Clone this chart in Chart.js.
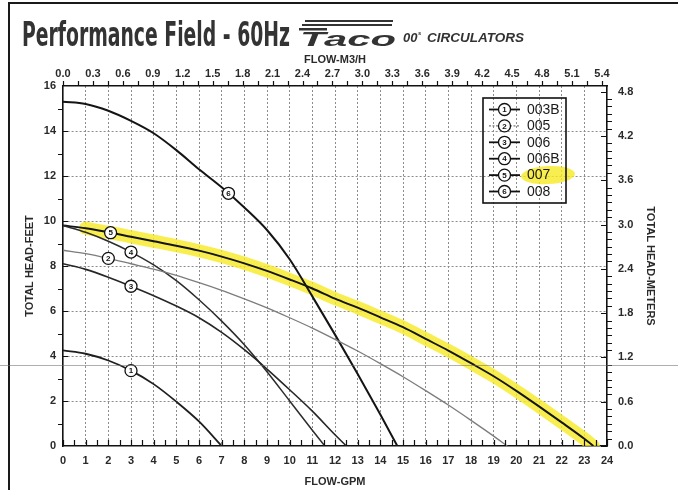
<!DOCTYPE html>
<html>
<head>
<meta charset="utf-8">
<title>Performance Field - 60Hz</title>
<style>
  html, body { margin: 0; padding: 0; background: #fff; }
  #wrap { width: 678px; height: 490px; position: relative; }
</style>
<script src="https://cdn.jsdelivr.net/npm/chart.js@4.4.1/dist/chart.umd.min.js"></script>
</head>
<body>
<div id="wrap"><canvas id="c" width="678" height="490"></canvas></div>
<script>
// tick labels
const gpmTicks = [0, 1, 2, 3, 4, 5, 6, 7, 8, 9, 10, 11, 12, 13, 14, 15, 16, 17, 18, 19, 20, 21, 22, 23, 24];
const feetTicks = [0, 2, 4, 6, 8, 10, 12, 14, 16];
const meterTicks = [0, 0.6, 1.2, 1.8, 2.4, 3.0, 3.6, 4.2, 4.8];
const m3hTicks = [0, 0.3, 0.6, 0.9, 1.2, 1.5, 1.8, 2.1, 2.4, 2.7, 3.0, 3.3, 3.6, 3.9, 4.2, 4.5, 4.8, 5.1, 5.4];

// pump curves: flow (GPM) / head (ft)
const flow003B = [0, 1, 2, 3, 4, 5, 6, 7];
const head003B = [4.25, 4.1, 3.8, 3.35, 2.75, 1.97, 1.09, 0];

const flow005 = [0, 1, 2, 3, 4, 5, 6, 7, 8, 9, 10, 11, 12, 13, 14, 15, 16, 17, 18, 19, 19.6];
const head005 = [8.7, 8.55, 8.34, 8.1, 7.86, 7.58, 7.26, 6.92, 6.54, 6.14, 5.7, 5.24, 4.74, 4.22, 3.66, 3.08, 2.46, 1.82, 1.14, 0.44, 0];

const flow006 = [0, 1, 2, 3, 4, 5, 6, 7, 8, 9, 10, 11, 12, 12.5];
const head006 = [8.1, 7.85, 7.5, 7.1, 6.68, 6.22, 5.7, 5.05, 4.28, 3.42, 2.5, 1.55, 0.5, 0];

const flow006B = [0, 1, 2, 3, 4, 5, 6, 7, 8, 9, 10, 11, 11.55];
const head006B = [9.8, 9.5, 9.1, 8.62, 8.05, 7.35, 6.5, 5.55, 4.5, 3.3, 2.0, 0.7, 0];

const flow007 = [0, 1, 2, 3, 4, 5, 6, 7, 8, 9, 10, 11, 12, 13, 14, 15, 16, 17, 18, 19, 20, 21, 22, 23, 23.4];
const head007 = [9.8, 9.68, 9.5, 9.3, 9.1, 8.9, 8.68, 8.42, 8.12, 7.78, 7.4, 7.0, 6.55, 6.15, 5.72, 5.28, 4.76, 4.24, 3.68, 3.1, 2.45, 1.76, 1.05, 0.32, 0];

const flow008 = [0, 1, 2, 3, 4, 5, 6, 7, 8, 9, 10, 11, 12, 13, 14, 14.75];
const head008 = [15.3, 15.2, 14.9, 14.45, 13.9, 13.15, 12.3, 11.5, 10.6, 9.6, 8.3, 6.65, 4.95, 3.2, 1.4, 0];

const models = ['003B', '005', '006', '006B', '007', '008'];
const tagNumbers = ['1', '2', '3', '4', '5', '6'];
const tagFlow = [3, 2, 3, 3, 2.1, 7.3];

const series = [
  [flow003B, head003B],
  [flow005, head005],
  [flow006, head006],
  [flow006B, head006B],
  [flow007, head007],
  [flow008, head008]
];
const lineColors = ['#1e1e1e', '#7c7c7c', '#262626', '#2c2c2c', '#141414', '#141414'];
const lineWidths = [1.8, 1.3, 1.6, 1.5, 1.9, 2.0];

const FONT = "'Liberation Sans', Arial, sans-serif";
const INK = '#2a2a2a';
const HILITE = 'rgba(248, 234, 36, 0.8)';

function pts(flow, head) {
  return flow.map((f, i) => ({ x: f, y: head[i] }));
}

function headAt(flow, head, f) {
  for (let i = 1; i < flow.length; i++) {
    if (f <= flow[i]) {
      const t = (f - flow[i - 1]) / (flow[i] - flow[i - 1]);
      return head[i - 1] + t * (head[i] - head[i - 1]);
    }
  }
  return head[head.length - 1];
}

const datasets = series.map((s, i) => ({
  label: models[i],
  data: pts(s[0], s[1]),
  borderColor: lineColors[i],
  borderWidth: lineWidths[i],
  pointRadius: 0,
  fill: false,
  cubicInterpolationMode: 'monotone',
  xAxisID: 'x',
  yAxisID: 'y',
  order: 1
}));

// highlighter stroke along the 007 curve
datasets.push({
  label: 'hl',
  data: pts(flow007.slice(1), head007.slice(1)),
  borderColor: HILITE,
  borderWidth: 13,
  borderCapStyle: 'round',
  pointRadius: 0,
  fill: false,
  cubicInterpolationMode: 'monotone',
  xAxisID: 'x',
  yAxisID: 'y',
  order: 9
});

function circleTag(ctx, x, y, txt) {
  ctx.beginPath();
  ctx.arc(x, y, 6, 0, Math.PI * 2);
  ctx.fillStyle = '#fff';
  ctx.fill();
  ctx.lineWidth = 1.3;
  ctx.strokeStyle = '#111';
  ctx.stroke();
  ctx.fillStyle = '#111';
  ctx.font = 'bold 8px ' + FONT;
  ctx.textAlign = 'center';
  ctx.textBaseline = 'middle';
  ctx.fillText(txt, x, y + 0.5);
}

const tags = {
  id: 'tags',
  afterDatasetsDraw(chart) {
    const ctx = chart.ctx, xs = chart.scales.x, ys = chart.scales.y;
    ctx.save();
    series.forEach((s, i) => {
      const f = tagFlow[i];
      circleTag(ctx, xs.getPixelForValue(f), ys.getPixelForValue(headAt(s[0], s[1], f)), tagNumbers[i]);
    });
    ctx.restore();
  }
};

const decor = {
  id: 'decor',
  beforeDraw(chart) {
    const ctx = chart.ctx;
    ctx.save();
    ctx.fillStyle = '#fff';
    ctx.fillRect(0, 0, chart.width, chart.height);
    ctx.restore();
  },
  afterDraw(chart) {
    const ctx = chart.ctx;
    const xs = chart.scales.x, x2 = chart.scales.x2, ys = chart.scales.y, y2 = chart.scales.y2;
    const a = chart.chartArea;
    ctx.save();

    // page frame
    ctx.strokeStyle = '#1a1a1a';
    ctx.lineWidth = 2;
    ctx.beginPath();
    ctx.moveTo(9, 490);
    ctx.lineTo(9, 3);
    ctx.lineTo(678, 3);
    ctx.stroke();

    // tick marks
    ctx.strokeStyle = '#111';
    ctx.lineWidth = 1.2;
    ctx.beginPath();
    for (let v = 0; v <= 24; v += 0.5) {
      const px = Math.round(xs.getPixelForValue(v)) + 0.5;
      ctx.moveTo(px, a.bottom);
      ctx.lineTo(px, a.bottom - 6);
    }
    for (let v = 0; v <= 5.46; v += 0.15) {
      const px = Math.round(x2.getPixelForValue(v)) + 0.5;
      ctx.moveTo(px, a.top);
      ctx.lineTo(px, a.top - 5);
    }
    for (let v = 1; v < 16; v++) {
      const py = Math.round(ys.getPixelForValue(v)) + 0.5;
      if (v % 2) { ctx.moveTo(a.left, py); ctx.lineTo(a.left - 5, py); }
      else { ctx.moveTo(a.left, py); ctx.lineTo(a.left + 5, py); }
    }
    for (let k = 0; k <= 48; k++) {
      const py = Math.round(y2.getPixelForValue(k / 10)) + 0.5;
      if (k % 6) { ctx.moveTo(a.right, py); ctx.lineTo(a.right + 5, py); }
      else { ctx.moveTo(a.right, py); ctx.lineTo(a.right - 6, py); }
    }
    ctx.stroke();

    // legend
    const lx0 = 483, ly0 = 98, lx1 = 566, ly1 = 203;
    const rowY = i => 109.5 + i * 16.4;
    ctx.fillStyle = HILITE;
    ctx.beginPath();
    ctx.ellipse(548, rowY(4), 27, 9, -0.05, 0, Math.PI * 2);
    ctx.fill();
    ctx.lineWidth = 1.6;
    ctx.strokeStyle = '#111';
    ctx.strokeRect(lx0, ly0, lx1 - lx0, ly1 - ly0);
    models.forEach((m, i) => {
      const y = rowY(i);
      ctx.save();
      ctx.strokeStyle = i === 1 ? '#7c7c7c' : '#111';
      ctx.lineWidth = i === 1 ? 1.2 : 1.8;
      if (i === 1) ctx.setLineDash([2, 1.5]);
      ctx.beginPath();
      ctx.moveTo(489, y);
      ctx.lineTo(520, y);
      ctx.stroke();
      ctx.restore();
      circleTag(ctx, 504.5, y, tagNumbers[i]);
      ctx.fillStyle = '#1a1a1a';
      ctx.font = '14px ' + FONT;
      ctx.textAlign = 'left';
      ctx.textBaseline = 'middle';
      ctx.fillText(m, 527, y + 0.5);
    });

    // heading
    ctx.fillStyle = '#333';
    ctx.textAlign = 'left';
    ctx.textBaseline = 'alphabetic';
    ctx.font = "bold 34px 'DejaVu Sans Condensed', 'Liberation Sans Narrow', sans-serif";
    const head = 'Performance Field - 60Hz';
    const hw = ctx.measureText(head).width;
    ctx.save();
    ctx.translate(22, 46);
    ctx.scale(268 / hw, 1);
    ctx.fillText(head, 0, 0);
    ctx.restore();

    // brand mark
    ctx.fillStyle = '#333';
    ctx.fillRect(305, 20, 88, 2);
    ctx.fillRect(302, 24, 90, 2);
    ctx.fillRect(299, 28, 28, 2.5);
    ctx.font = 'bold italic 24px ' + FONT;
    const bw = ctx.measureText('Taco').width;
    ctx.save();
    ctx.translate(300, 46);
    ctx.scale(96 / bw, 0.85);
    ctx.fillText('Taco', 0, 0);
    ctx.restore();
    ctx.font = 'bold italic 13px ' + FONT;
    ctx.fillText('00', 403, 42);
    ctx.font = 'bold italic 6px ' + FONT;
    ctx.fillText('s', 418, 35);
    ctx.font = 'bold italic 13.5px ' + FONT;
    ctx.fillText('CIRCULATORS', 427, 42);

    // faint scanner streak
    ctx.strokeStyle = 'rgba(110,110,110,0.55)';
    ctx.lineWidth = 1;
    ctx.beginPath();
    ctx.moveTo(0, 365.5);
    ctx.lineTo(678, 365.5);
    ctx.stroke();

    ctx.restore();
  }
};

const tickFont = { family: FONT, size: 11, weight: 'bold' };
const titleFont = { family: FONT, size: 11, weight: 'bold' };
const gridColor = ends => c => (ends.includes(c.tick.value) ? 'rgba(0,0,0,0)' : '#8c8c8c');

new Chart(document.getElementById('c'), {
  type: 'line',
  data: { datasets },
  options: {
    responsive: false,
    animation: false,
    events: [],
    layout: { padding: 0 },
    plugins: { legend: { display: false }, tooltip: { enabled: false } },
    scales: {
      x: {
        type: 'linear', position: 'bottom', min: 0, max: 24,
        afterBuildTicks: s => { s.ticks = gpmTicks.map(v => ({ value: v })); },
        afterFit: s => { s.height = 44; },
        grid: { color: gridColor([0, 24]), lineWidth: 1, drawTicks: false },
        border: { display: true, color: '#111', width: 1.6, dash: [2, 2] },
        ticks: { padding: 8, color: INK, font: tickFont, maxRotation: 0, autoSkip: false },
        title: { display: true, text: 'FLOW-GPM', color: INK, font: titleFont, padding: { top: 0, bottom: 1 } }
      },
      x2: {
        type: 'linear', position: 'top', min: 0, max: 5.451,
        afterBuildTicks: s => { s.ticks = m3hTicks.map(v => ({ value: v })); },
        afterFit: s => { s.height = 86; },
        grid: { drawOnChartArea: false, drawTicks: false },
        border: { display: true, color: '#111', width: 1.4 },
        ticks: { padding: 5, color: INK, font: tickFont, maxRotation: 0, autoSkip: false, callback: v => v.toFixed(1) },
        title: { display: true, text: 'FLOW-M3/H', color: INK, font: titleFont, padding: { top: 53, bottom: 0 } }
      },
      y: {
        type: 'linear', position: 'left', min: 0, max: 16,
        afterBuildTicks: s => { s.ticks = feetTicks.map(v => ({ value: v })); },
        afterFit: s => { s.width = 63; },
        grid: { color: gridColor([0, 16]), lineWidth: 1, drawTicks: false },
        border: { display: true, color: '#111', width: 1.6, dash: [2, 2] },
        ticks: { padding: 7, color: INK, font: tickFont, autoSkip: false },
        title: { display: true, text: 'TOTAL HEAD-FEET', color: INK, font: titleFont, padding: { top: 23, bottom: 0 } }
      },
      y2: {
        type: 'linear', position: 'right', min: 0, max: 4.877,
        afterBuildTicks: s => { s.ticks = meterTicks.map(v => ({ value: v })); },
        afterFit: s => { s.width = 71; },
        grid: { drawOnChartArea: false, drawTicks: false },
        border: { display: true, color: '#111', width: 1.6 },
        ticks: { padding: 11, color: INK, font: tickFont, autoSkip: false, callback: v => v.toFixed(1) },
        title: { display: true, text: 'TOTAL HEAD-METERS', color: INK, font: titleFont, padding: { top: 21, bottom: 0 } }
      }
    }
  },
  plugins: [decor, tags]
});
</script>
</body>
</html>
